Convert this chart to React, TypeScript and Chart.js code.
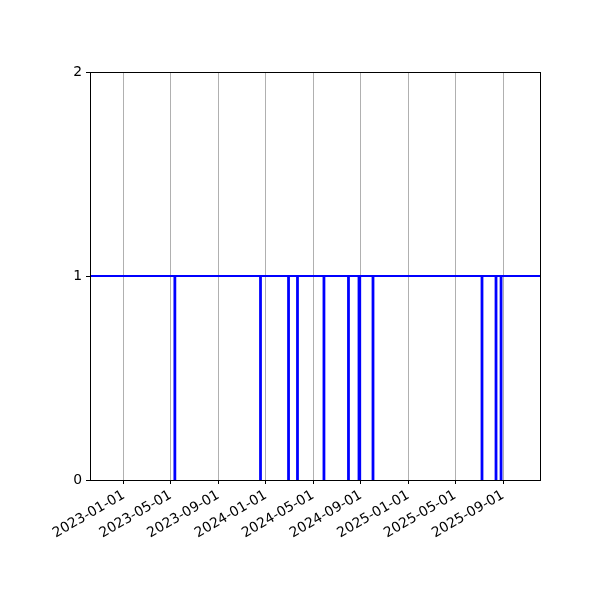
import React, { useEffect, useRef } from "react";
import { Chart, registerables } from "chart.js";

Chart.register(...registerables);

const X_MIN = "2022-10-06";
const X_MAX = "2025-12-05";

const DATES = [
  "2022-10-06",
  "2023-05-11", "2023-05-13",
  "2023-12-17", "2023-12-19",
  "2024-02-27", "2024-02-29",
  "2024-03-21", "2024-03-23",
  "2024-05-28", "2024-05-30",
  "2024-07-30", "2024-08-01",
  "2024-08-26", "2024-08-30",
  "2024-10-01", "2024-10-03",
  "2025-07-08", "2025-07-10",
  "2025-08-13", "2025-08-15",
  "2025-08-26", "2025-08-28",
  "2025-12-05",
];

const VALUES = [
  1,
  0, 1,
  0, 1,
  0, 1,
  0, 1,
  0, 1,
  0, 1,
  0, 1,
  0, 1,
  0, 1,
  0, 1,
  0, 1,
  1,
];

const X_TICKS = [
  "2023-01-01", "2023-05-01", "2023-09-01",
  "2024-01-01", "2024-05-01", "2024-09-01",
  "2025-01-01", "2025-05-01", "2025-09-01",
];

const Y_TICKS = [0, 1, 2];

const toMs = (s: string) => Date.parse(s + "T00:00:00Z");
const fmt = (v: number) => new Date(v).toISOString().slice(0, 10);

const frame = {
  id: "frame",
  afterDraw(chart: any) {
    const { ctx, chartArea } = chart;
    ctx.save();
    ctx.strokeStyle = "#000";
    ctx.lineWidth = 1;
    ctx.strokeRect(
      Math.round(chartArea.left) + 0.5,
      Math.round(chartArea.top) + 0.5,
      Math.round(chartArea.right - chartArea.left),
      Math.round(chartArea.bottom - chartArea.top)
    );
    ctx.restore();
  },
};

export default function App() {
  const ref = useRef<HTMLCanvasElement | null>(null);

  useEffect(() => {
    if (!ref.current) return;
    const font = { family: "DejaVu Sans", size: 13.9 };
    const chart = new Chart(ref.current, {
      type: "line",
      data: {
        datasets: [
          {
            data: DATES.map((d, i) => ({ x: toMs(d), y: VALUES[i] })),
            borderColor: "#0000ff",
            borderWidth: 2,
            pointRadius: 0,
            stepped: true,
            fill: false,
          },
        ],
      },
      options: {
        responsive: false,
        devicePixelRatio: 1,
        animation: false,
        plugins: { legend: { display: false }, tooltip: { enabled: false } },
        layout: { padding: { top: 72, right: 60, left: 0, bottom: 0 } },
        scales: {
          x: {
            type: "linear",
            min: toMs(X_MIN),
            max: toMs(X_MAX),
            afterBuildTicks: (scale: any) => {
              scale.ticks = X_TICKS.map((t) => ({ value: toMs(t) }));
            },
            afterFit: (scale: any) => {
              scale.height = 120;
            },
            grid: {
              color: "#b0b0b0",
              lineWidth: 1,
              drawTicks: true,
              tickLength: 4,
              tickColor: "#000",
            },
            border: { color: "#000", width: 1 },
            ticks: {
              autoSkip: false,
              minRotation: 30,
              maxRotation: 30,
              padding: 3,
              color: "#000",
              font,
              callback: (v: any) => fmt(Number(v)),
            },
          },
          y: {
            type: "linear",
            min: 0,
            max: 2,
            afterBuildTicks: (scale: any) => {
              scale.ticks = Y_TICKS.map((t) => ({ value: t }));
            },
            afterFit: (scale: any) => {
              scale.width = 90;
            },
            grid: {
              drawOnChartArea: false,
              drawTicks: true,
              tickLength: 4,
              tickColor: "#000",
            },
            border: { color: "#000", width: 1 },
            ticks: { color: "#000", font, padding: 4 },
          },
        },
      },
      plugins: [frame],
    } as any);
    return () => chart.destroy();
  }, []);

  return (
    <div style={{ position: "absolute", left: 0, top: 0, width: 600, height: 600, background: "#fff" }}>
      <canvas ref={ref} width={600} height={600} />
    </div>
  );
}
